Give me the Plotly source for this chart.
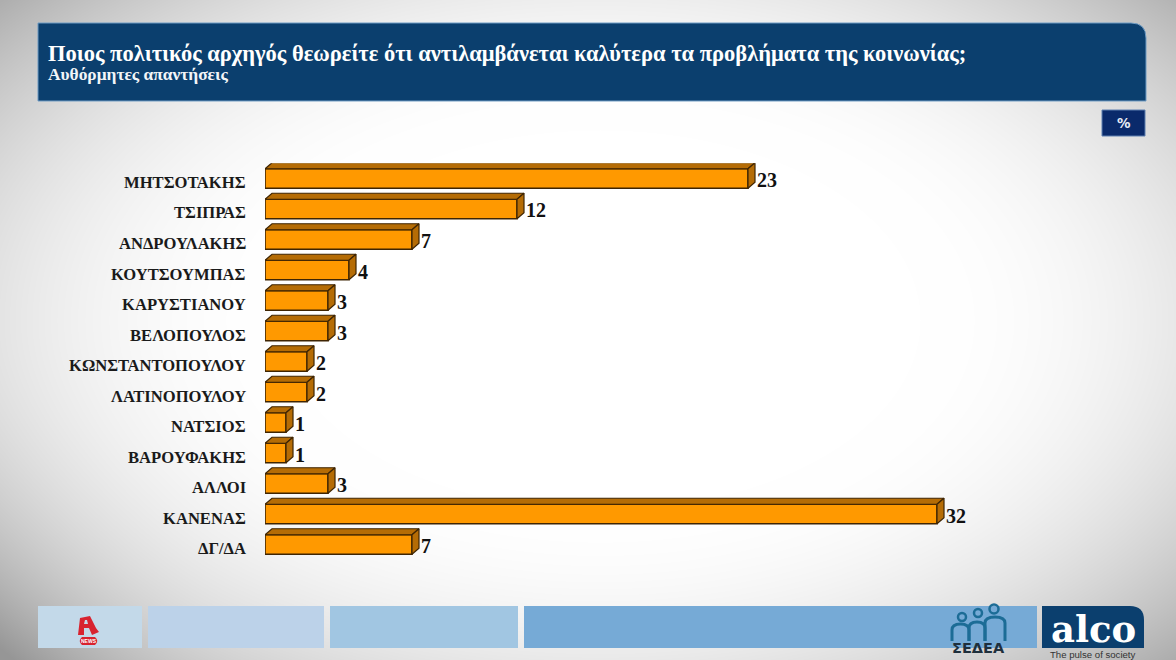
import base64
import struct
import zlib

import numpy as np
import plotly.graph_objects as go

W, H = 1176, 660

categories = ["ΜΗΤΣΟΤΑΚΗΣ", "ΤΣΙΠΡΑΣ", "ΑΝΔΡΟΥΛΑΚΗΣ", "ΚΟΥΤΣΟΥΜΠΑΣ", "ΚΑΡΥΣΤΙΑΝΟΥ",
              "ΒΕΛΟΠΟΥΛΟΣ", "ΚΩΝΣΤΑΝΤΟΠΟΥΛΟΥ", "ΛΑΤΙΝΟΠΟΥΛΟΥ", "ΝΑΤΣΙΟΣ", "ΒΑΡΟΥΦΑΚΗΣ",
              "ΑΛΛΟΙ", "ΚΑΝΕΝΑΣ", "ΔΓ/ΔΑ"]
values = [23, 12, 7, 4, 3, 3, 2, 2, 1, 1, 3, 32, 7]

title_text = "Ποιος πολιτικός αρχηγός θεωρείτε ότι αντιλαμβάνεται καλύτερα τα προβλήματα της κοινωνίας;"
subtitle_text = "Αυθόρμητες απαντήσεις"

SERIF = "Liberation Serif"
NAVY = "#0B3F6E"
FRONT = "#FF9900"
SIDE = "#B56C05"
EDGE = "#3F2503"

# Axis scale: 21 px per percentage point, 30.5 px per row
PX_PER_UNIT = 21.0
PX_PER_ROW = 30.5
X0, X1 = 265.0, 1125.0
Y_TOP = 178.5 - PX_PER_ROW / 2
Y_BOTTOM = Y_TOP + PX_PER_ROW * len(categories)
BAR_H = 19.5 / PX_PER_ROW
DEPTH_X = 7.0 / PX_PER_UNIT
DEPTH_Y = 6.0 / PX_PER_ROW


def px(x):
    return x / W


def py(y):
    return 1 - y / H


def path(points, close=True):
    d = "M" + " L".join(f"{px(x):.5f},{py(y):.5f}" for x, y in points)
    return d + (" Z" if close else "")


def rect(x0, y0, x1, y1, color, line=None):
    return dict(type="rect", xref="paper", yref="paper", layer="below",
                x0=px(x0), x1=px(x1), y0=py(y1), y1=py(y0), fillcolor=color,
                line=dict(color=line or color, width=1 if line else 0))


def label(x, y, text, size, color="#000000", anchor="left", family=SERIF, bold=True):
    body = f"<b>{text}</b>" if bold else text
    return dict(xref="paper", yref="paper", x=px(x), y=py(y), text=body, showarrow=False,
                xanchor=anchor, yanchor="middle", font=dict(family=family, size=size, color=color),
                borderpad=0, borderwidth=0)


def backdrop_png():
    # Soft vignette: white in the middle, grey towards the corners
    yy, xx = np.mgrid[0:H, 0:W]
    d = np.sqrt(((xx - 600) / 640.0) ** 2 + ((yy - 320) / 380.0) ** 2)
    shade = 255 - 140 * np.clip(d - 0.5, 0, None) ** 2
    shade -= 22 * np.clip((240 - xx) / 240.0, 0, 1) ** 2 * np.clip((yy - 330) / 330.0, 0, 1) ** 2
    shade = np.clip(shade, 150, 255).astype(np.uint8)
    rows = b"".join(b"\x00" + np.repeat(row[:, None], 3, axis=1).tobytes() for row in shade)

    def chunk(tag, data):
        return struct.pack(">I", len(data)) + tag + data + struct.pack(">I", zlib.crc32(tag + data))

    png = b"\x89PNG\r\n\x1a\n" + chunk(b"IHDR", struct.pack(">IIBBBBB", W, H, 8, 2, 0, 0, 0))
    png += chunk(b"IDAT", zlib.compress(rows, 9)) + chunk(b"IEND", b"")
    return "data:image/png;base64," + base64.b64encode(png).decode()


rows = list(range(len(categories)))
half = BAR_H / 2

# Top and right faces of each extruded bar
top_x, top_y, side_x, side_y = [], [], [], []
for r, v in zip(rows, values):
    top_x += [0, DEPTH_X, v + DEPTH_X, v, 0, None]
    top_y += [r - half, r - half - DEPTH_Y, r - half - DEPTH_Y, r - half, r - half, None]
    side_x += [v, v + DEPTH_X, v + DEPTH_X, v, v, None]
    side_y += [r - half, r - half - DEPTH_Y, r + half - DEPTH_Y, r + half, r - half, None]

fig = go.Figure()
for xs, ys in ((top_x, top_y), (side_x, side_y)):
    fig.add_trace(go.Scatter(x=xs, y=ys, mode="lines", fill="toself", fillcolor=SIDE,
                             line=dict(color=EDGE, width=1.2), hoverinfo="skip", showlegend=False))
fig.add_trace(go.Bar(x=values, y=rows, orientation="h", width=BAR_H, showlegend=False,
                     marker=dict(color=FRONT, line=dict(color=EDGE, width=1.6))))

annotations = []
for r, (name, v) in enumerate(zip(categories, values)):
    annotations.append(dict(x=0, y=r, xref="x", yref="y", text=f"<b>{name}</b>", showarrow=False,
                            xanchor="right", yanchor="middle", xshift=-17.5, yshift=-4,
                            font=dict(family=SERIF, size=16.6, color="#1A1A1A")))
    annotations.append(dict(x=v + DEPTH_X, y=r, xref="x", yref="y", text=f"<b>{v}</b>", showarrow=False,
                            xanchor="left", yanchor="middle", xshift=0, yshift=-1.5,
                            font=dict(family=SERIF, size=20, color="#111111")))

annotations += [
    label(48, 54, title_text, 22.5, "#FFFFFF"),
    label(48, 74, subtitle_text, 17.4, "#F2F5F8"),
    label(1123.5, 123, "%", 13.5, "#E6ECF5", "center", "DejaVu Sans"),
    label(978, 648, "ΣΕΔΕΑ", 14.5, "#1E2F3C", "center", "DejaVu Sans"),
    label(1093, 629, "alco", 37, "#FFFFFF", "center", "DejaVu Serif"),
    label(1092.5, 654, "The pulse of society", 9.6, "#333333", "center", "Liberation Sans", False),
    label(88.5, 641, "NEWS", 5, "#FFFFFF", "center", "Liberation Sans"),
]

r = 15
header = (f"M{px(38):.5f},{py(23):.5f} L{px(1146 - r):.5f},{py(23):.5f} "
          f"Q{px(1146):.5f},{py(23):.5f} {px(1146):.5f},{py(23 + r):.5f} "
          f"L{px(1146):.5f},{py(101):.5f} L{px(38):.5f},{py(101):.5f} Z")
alco_box = (f"M{px(1042):.5f},{py(606):.5f} L{px(1130):.5f},{py(606):.5f} "
            f"Q{px(1144):.5f},{py(606):.5f} {px(1144):.5f},{py(620):.5f} "
            f"L{px(1144):.5f},{py(648):.5f} L{px(1042):.5f},{py(648):.5f} Z")
news_pill = (f"M{px(82):.5f},{py(637):.5f} L{px(95):.5f},{py(637):.5f} "
             f"Q{px(99.5):.5f},{py(641):.5f} {px(95):.5f},{py(645):.5f} "
             f"L{px(82):.5f},{py(645):.5f} Q{px(77.5):.5f},{py(641):.5f} {px(82):.5f},{py(637):.5f} Z")

shapes = [
    dict(type="path", xref="paper", yref="paper", layer="below", path=header, fillcolor=NAVY,
         line=dict(color="#6F9CC4", width=1)),
    rect(1102, 110, 1145, 136, "#0A2A6B", "#5C7FB0"),
    rect(38, 606, 142, 648, "#C3D9E9"),
    rect(148, 606, 324, 648, "#BCD2E9"),
    rect(330, 606, 518, 648, "#A1C6E2"),
    rect(524, 606, 1037, 648, "#76AAD6"),
    dict(type="path", xref="paper", yref="paper", layer="below", path=alco_box, fillcolor=NAVY,
         line=dict(width=0)),
    # Channel mark
    dict(type="path", xref="paper", yref="paper", layer="below", fillcolor="#D8232F", line=dict(width=0),
         path=path([(78, 635), (80, 618), (90, 616), (96, 628), (99, 632), (92, 635), (89, 628), (84, 628), (84, 635)])),
    dict(type="path", xref="paper", yref="paper", layer="below", fillcolor="#C3D9E9", line=dict(width=0),
         path=path([(84, 624), (85, 620), (87, 620), (88, 624)])),
    dict(type="path", xref="paper", yref="paper", layer="below", path=news_pill, fillcolor="#D8232F",
         line=dict(width=0)),
]

# Three outlined figures of the association mark
TEAL = "#1C6C96"
for cx, cy, rad in ((962, 617, 4), (978, 613, 4), (994, 609, 4.5)):
    shapes.append(dict(type="circle", xref="paper", yref="paper", layer="below",
                       x0=px(cx - rad), x1=px(cx + rad), y0=py(cy + rad), y1=py(cy - rad),
                       line=dict(color=TEAL, width=2.5)))
for xl, xr, ytop in ((952, 969, 624), (969, 985, 622), (985, 1005, 617)):
    mid = (xl + xr) / 2
    shapes.append(dict(type="path", xref="paper", yref="paper", layer="below",
                       line=dict(color=TEAL, width=3),
                       path=(f"M{px(xl):.5f},{py(641):.5f} L{px(xl):.5f},{py(ytop + 6):.5f} "
                             f"Q{px(xl):.5f},{py(ytop):.5f} {px(mid):.5f},{py(ytop):.5f} "
                             f"Q{px(xr):.5f},{py(ytop):.5f} {px(xr):.5f},{py(ytop + 6):.5f} "
                             f"L{px(xr):.5f},{py(641):.5f}")))

fig.update_layout(
    width=W, height=H, autosize=False,
    margin=dict(l=0, r=0, t=0, b=0),
    paper_bgcolor="#FFFFFF", plot_bgcolor="rgba(0,0,0,0)",
    showlegend=False, barmode="overlay",
    images=[dict(source=backdrop_png(), xref="paper", yref="paper", x=0, y=1, sizex=1, sizey=1,
                 sizing="stretch", xanchor="left", yanchor="top", layer="below")],
    shapes=shapes, annotations=annotations,
    xaxis=dict(domain=[px(X0), px(X1)], range=[0, (X1 - X0) / PX_PER_UNIT], visible=False),
    yaxis=dict(domain=[py(Y_BOTTOM), py(Y_TOP)], range=[len(categories) - 0.5, -0.5], visible=False),
)

fig.write_html("out.html", config=dict(displayModeBar=False))
